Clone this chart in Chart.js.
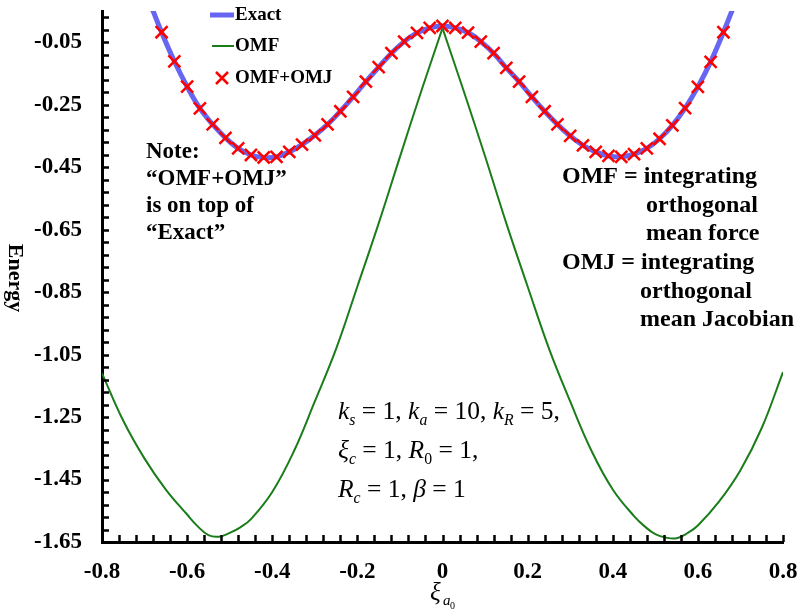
<!DOCTYPE html>
<html>
<head>
<meta charset="utf-8">
<script src="https://cdn.jsdelivr.net/npm/chart.js@4.4.1/dist/chart.umd.min.js"></script>
<style>
  html, body { margin: 0; padding: 0; background: #fff; }
  #wrap { width: 800px; height: 615px; position: relative; }
</style>
</head>
<body>
<div id="wrap"><canvas id="energyChart"></canvas></div>
<script>
/* ================= DATA ================= */

// OMF+OMJ markers (every 0.03)
const markX = [-0.66, -0.63, -0.60, -0.57, -0.54, -0.51, -0.48, -0.45, -0.42, -0.39, -0.36, -0.33,
  -0.30, -0.27, -0.24, -0.21, -0.18, -0.15, -0.12, -0.09, -0.06, -0.03, 0,
  0.03, 0.06, 0.09, 0.12, 0.15, 0.18, 0.21, 0.24, 0.27, 0.30, 0.33, 0.36, 0.39, 0.42,
  0.45, 0.48, 0.51, 0.54, 0.57, 0.60, 0.63, 0.66];
const markE = [-0.018, -0.111, -0.192, -0.262, -0.313, -0.356, -0.390, -0.411, -0.419, -0.417, -0.401, -0.378,
  -0.348, -0.313, -0.271, -0.225, -0.176, -0.130, -0.085, -0.048, -0.020, -0.004, 0.002,
  -0.004, -0.019, -0.048, -0.085, -0.132, -0.176, -0.225, -0.271, -0.313, -0.350, -0.380, -0.401, -0.414, -0.417,
  -0.408, -0.390, -0.359, -0.316, -0.261, -0.193, -0.113, -0.018];

// Exact curve
const exactX = [-0.69, -0.66, -0.63, -0.60, -0.57, -0.54, -0.51, -0.48, -0.45, -0.42, -0.39, -0.36, -0.33,
  -0.30, -0.27, -0.24, -0.21, -0.18, -0.15, -0.12, -0.09, -0.06, -0.03, 0,
  0.03, 0.06, 0.09, 0.12, 0.15, 0.18, 0.21, 0.24, 0.27, 0.30, 0.33, 0.36, 0.39, 0.42,
  0.45, 0.48, 0.51, 0.54, 0.57, 0.60, 0.63, 0.66, 0.69];
const exactE = [0.085, -0.018, -0.111, -0.192, -0.262, -0.313, -0.356, -0.390, -0.411, -0.419, -0.417, -0.401, -0.378,
  -0.348, -0.313, -0.271, -0.225, -0.176, -0.130, -0.085, -0.048, -0.020, -0.004, 0.002,
  -0.004, -0.019, -0.048, -0.085, -0.132, -0.176, -0.225, -0.271, -0.313, -0.350, -0.380, -0.401, -0.414, -0.417,
  -0.408, -0.390, -0.359, -0.316, -0.261, -0.193, -0.113, -0.018, 0.085];

// OMF curve
const omfX = [-0.80, -0.75, -0.70, -0.65, -0.60, -0.575, -0.55, -0.525, -0.50, -0.475, -0.45, -0.40, -0.35,
  -0.30, -0.25, -0.20, -0.15, -0.10, -0.05, 0,
  0.05, 0.10, 0.15, 0.20, 0.25, 0.30, 0.35, 0.40, 0.45, 0.475, 0.50, 0.525, 0.55, 0.575, 0.60,
  0.65, 0.70, 0.75, 0.80];
const omfE = [-1.110, -1.262, -1.383, -1.482, -1.562, -1.600, -1.628, -1.633, -1.621, -1.603, -1.577, -1.490, -1.362,
  -1.200, -1.032, -0.832, -0.630, -0.417, -0.207, -0.005,
  -0.207, -0.415, -0.630, -0.832, -1.030, -1.200, -1.358, -1.482, -1.567, -1.600, -1.625, -1.636, -1.638, -1.622, -1.597,
  -1.520, -1.420, -1.285, -1.106];

const xTicks = [-0.8, -0.6, -0.4, -0.2, 0, 0.2, 0.4, 0.6, 0.8];
const yTicks = [-1.65, -1.45, -1.25, -1.05, -0.85, -0.65, -0.45, -0.25, -0.05];

/* ================= HELPERS ================= */

const SERIF = '"Liberation Serif", "Times New Roman", serif';
const pts = (xs, ys) => xs.map((x, i) => ({ x: x, y: ys[i] }));

// split OMF at the cusp so each half is smoothed on its own
const omfLeft = pts(omfX, omfE).filter(p => p.x <= 0);
const omfRight = pts(omfX, omfE).filter(p => p.x >= 0);

// italic / subscript runs for the math note
function drawRich(ctx, x, y, parts, size) {
  let cx = x;
  parts.forEach(([t, st]) => {
    const sub = st.includes('s');
    const it = st.includes('i');
    const fs = sub ? size * 0.62 : size;
    ctx.font = (it ? 'italic ' : '') + fs + 'px ' + SERIF;
    ctx.fillText(t, cx, y + (sub ? size * 0.22 : 0));
    cx += ctx.measureText(t).width;
  });
}

/* ================= DECORATION PLUGIN ================= */

const decor = {
  id: 'decor',
  afterDraw(chart) {
    const ctx = chart.ctx;
    const xs = chart.scales.x, ys = chart.scales.y;
    const area = chart.chartArea;
    ctx.save();

    // inner minor ticks
    ctx.strokeStyle = '#000';
    ctx.lineWidth = 2.5;
    ctx.beginPath();
    for (let v = -1.65; v <= 0.051; v += 0.04) {
      const y = Math.round(ys.getPixelForValue(v)) + 0.5;
      ctx.moveTo(area.left, y);
      ctx.lineTo(area.left + 7, y);
    }
    for (let v = -0.8; v <= 0.801; v += 0.04) {
      const x = Math.round(xs.getPixelForValue(v)) + 0.5;
      ctx.moveTo(x, area.bottom);
      ctx.lineTo(x, area.bottom - 7);
    }
    ctx.stroke();

    // legend
    ctx.fillStyle = '#000';
    ctx.textBaseline = 'middle';
    ctx.font = 'bold 19px ' + SERIF;
    ctx.strokeStyle = '#6666f2';
    ctx.lineWidth = 5;
    ctx.beginPath(); ctx.moveTo(210, 15); ctx.lineTo(234, 15); ctx.stroke();
    ctx.fillText('Exact', 235, 15);
    ctx.strokeStyle = '#1a7d1a';
    ctx.lineWidth = 2;
    ctx.beginPath(); ctx.moveTo(212, 46); ctx.lineTo(234, 46); ctx.stroke();
    ctx.fillText('OMF', 235, 46);
    ctx.strokeStyle = '#ff0000';
    ctx.lineWidth = 2.5;
    ctx.beginPath();
    ctx.moveTo(216, 72); ctx.lineTo(228, 84);
    ctx.moveTo(228, 72); ctx.lineTo(216, 84);
    ctx.stroke();
    ctx.fillText('OMF+OMJ', 235, 78);

    // notes
    ctx.font = 'bold 23px ' + SERIF;
    ['Note:', '\u201COMF+OMJ\u201D', 'is on top of', '\u201CExact\u201D'].forEach((t, i) => {
      ctx.fillText(t, 146, 152 + i * 27);
    });
    ctx.font = 'bold 24px ' + SERIF;
    ctx.fillText('OMF = integrating', 562, 177);
    ctx.fillText('orthogonal', 646, 206);
    ctx.fillText('mean force', 646, 234);
    ctx.fillText('OMJ = integrating', 562, 263);
    ctx.fillText('orthogonal', 640, 292);
    ctx.fillText('mean Jacobian', 640, 320);

    // parameters
    ctx.textBaseline = 'alphabetic';
    drawRich(ctx, 338, 419, [['k', 'i'], ['s', 'is'], [' = 1, ', ''], ['k', 'i'], ['a', 'is'], [' = 10, ', ''],
      ['k', 'i'], ['R', 'is'], [' = 5,', '']], 25.5);
    drawRich(ctx, 338, 458, [['\u03BE', 'i'], ['c', 'is'], [' = 1, ', ''], ['R', 'i'], ['0', 's'], [' = 1,', '']], 25.5);
    drawRich(ctx, 338, 497, [['R', 'i'], ['c', 'is'], [' = 1, ', ''], ['\u03B2', 'i'], [' = 1', '']], 25.5);

    // axis titles
    ctx.font = 'italic 25px ' + SERIF;
    ctx.fillText('\u03BE', 430, 600);
    ctx.font = 'italic 15px ' + SERIF;
    ctx.fillText('a', 443, 605);
    ctx.font = '10px ' + SERIF;
    ctx.fillText('0', 450, 609);

    ctx.translate(15, 278);
    ctx.rotate(Math.PI / 2);
    ctx.font = 'bold 22px ' + SERIF;
    ctx.textAlign = 'center';
    ctx.textBaseline = 'middle';
    ctx.fillText('Energy', 0, 0);
    ctx.restore();
  }
};

/* ================= CHART ================= */

const omfStyle = {
  showLine: true,
  borderColor: '#1a7d1a',
  borderWidth: 2,
  pointRadius: 0,
  tension: 0.4,
  order: 2
};

new Chart(document.getElementById('energyChart'), {
  type: 'scatter',
  data: {
    datasets: [
      {
        label: 'OMF+OMJ',
        data: pts(markX, markE),
        showLine: false,
        pointStyle: 'crossRot',
        pointRadius: 8.5,
        pointBorderWidth: 2.5,
        borderColor: '#ff0000',
        backgroundColor: '#ff0000',
        order: 0
      },
      {
        label: 'Exact',
        data: pts(exactX, exactE),
        showLine: true,
        borderColor: '#6666f2',
        borderWidth: 5,
        pointRadius: 0,
        tension: 0.4,
        order: 1
      },
      Object.assign({ label: 'OMF', data: omfLeft }, omfStyle),
      Object.assign({ label: 'OMF (right)', data: omfRight }, omfStyle)
    ]
  },
  options: {
    responsive: true,
    maintainAspectRatio: false,
    animation: false,
    layout: { padding: { top: 3, right: 17, left: 0, bottom: 0 } },
    plugins: {
      legend: { display: false },
      tooltip: { enabled: false }
    },
    scales: {
      x: {
        type: 'linear',
        min: -0.8,
        max: 0.8,
        afterBuildTicks: s => { s.ticks = xTicks.map(v => ({ value: v })); },
        afterFit: s => { s.height = 73; s.paddingLeft = 0; s.paddingRight = 0; },
        grid: { display: false, drawTicks: false },
        border: { display: true, color: '#000', width: 3 },
        ticks: {
          color: '#000',
          padding: 16,
          maxRotation: 0,
          font: { family: SERIF, size: 23, weight: 'bold' },
          callback: v => (v === 0 ? '0' : v.toFixed(1))
        }
      },
      y: {
        type: 'linear',
        min: -1.65,
        max: 0.05,
        afterBuildTicks: s => { s.ticks = yTicks.map(v => ({ value: v })); },
        afterFit: s => { s.width = 102; s.paddingTop = 0; s.paddingBottom = 0; },
        grid: { display: false, drawTicks: false },
        border: { display: true, color: '#000', width: 3 },
        ticks: {
          color: '#000',
          padding: 20,
          font: { family: SERIF, size: 23, weight: 'bold' },
          callback: v => v.toFixed(2)
        }
      }
    }
  },
  plugins: [decor]
});
</script>
</body>
</html>
